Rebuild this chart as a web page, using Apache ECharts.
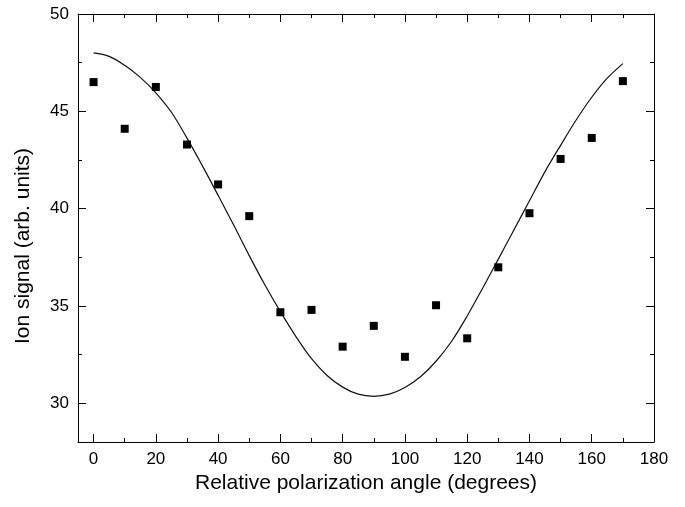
<!DOCTYPE html>
<html>
<head>
<meta charset="utf-8">
<script src="https://cdn.jsdelivr.net/npm/echarts@6/dist/echarts.min.js"></script>
<style>
html,body{margin:0;padding:0;background:#fff;}
#chart{width:685px;height:507px;}
</style>
</head>
<body>
<div id="chart"></div>
<script>
// Measured data points
const angles = [0, 10, 20, 30, 40, 50, 60, 70, 80, 90, 100, 110, 120, 130, 140, 150, 160, 170];
const signal = [46.50, 44.10, 46.25, 43.29, 41.24, 39.61, 34.67, 34.79, 32.90, 33.97, 32.38, 35.03, 33.33, 36.98, 39.76, 42.55, 43.63, 46.55];

// Fit curve, every 5 degrees
const fitAngles = [0, 5, 10, 15, 20, 25, 30, 35, 40, 45, 50, 55, 60, 65, 70, 75, 80, 85, 90,
                   95, 100, 105, 110, 115, 120, 125, 130, 135, 140, 145, 150, 155, 160, 165, 170];
const fitValues = [48.00, 47.82, 47.36, 46.74, 45.95, 44.95, 43.62, 42.18, 40.68, 39.15, 37.58, 36.08, 34.70, 33.42, 32.28, 31.42, 30.82, 30.46, 30.35,
                   30.46, 30.80, 31.35, 32.15, 33.18, 34.48, 35.92, 37.40, 38.90, 40.40, 41.90, 43.25, 44.55, 45.72, 46.70, 47.45];

// Tick values
const xMajorTicks = [0, 20, 40, 60, 80, 100, 120, 140, 160, 180];
const xMinorTicks = [10, 30, 50, 70, 90, 110, 130, 150, 170];
const yMajorTicks = [30, 35, 40, 45, 50];
const yMinorTicks = [32.5, 37.5, 42.5, 47.5];

const xTitle = 'Relative polarization angle (degrees)';
const yTitle = 'Ion signal (arb. units)';

const FONT = '"Liberation Sans", Arial, Helvetica, sans-serif';
const INK = '#000';

function xAx(pos, ticks, len, showLine, showLabel) {
  const a = {
    type: 'value', position: pos, min: -5, max: 180,
    splitLine: { show: false },
    axisLine: { show: showLine, onZero: false, lineStyle: { color: INK, width: 1 } },
    axisTick: { show: true, inside: true, length: len, customValues: ticks, lineStyle: { color: INK, width: 1 } },
    axisLabel: { show: false }
  };
  if (showLabel) {
    a.axisLabel = { show: true, customValues: xMajorTicks, color: INK, fontSize: 17, fontFamily: FONT, margin: 9 };
    a.name = xTitle;
    a.nameLocation = 'middle';
    a.nameGap = 27;
    a.nameTextStyle = { color: INK, fontSize: 21, fontFamily: FONT };
  }
  return a;
}
function yAx(pos, ticks, len, showLine, showLabel) {
  const a = {
    type: 'value', position: pos, min: 28, max: 50,
    splitLine: { show: false },
    axisLine: { show: showLine, onZero: false, lineStyle: { color: INK, width: 1 } },
    axisTick: { show: true, inside: true, length: len, customValues: ticks, lineStyle: { color: INK, width: 1 } },
    axisLabel: { show: false }
  };
  if (showLabel) {
    a.axisLabel = { show: true, customValues: yMajorTicks, color: INK, fontSize: 17, fontFamily: FONT, margin: 9 };
  }
  return a;
}

const chart = echarts.init(document.getElementById('chart'), null, { renderer: 'canvas' });
chart.setOption({
  animation: false,
  backgroundColor: '#fff',
  grid: { left: 78, right: 31, top: 14, bottom: 65, containLabel: false, outerBoundsMode: 'none' },
  xAxis: [
    xAx('bottom', xMajorTicks, 8, true, true),
    xAx('bottom', xMinorTicks, 4, false, false),
    xAx('top', xMajorTicks, 8, true, false),
    xAx('top', xMinorTicks, 4, false, false)
  ],
  yAxis: [
    yAx('left', yMajorTicks, 8, true, true),
    yAx('left', yMinorTicks, 4, false, false),
    yAx('right', yMajorTicks, 8, true, false),
    yAx('right', yMinorTicks, 4, false, false)
  ],
  graphic: [{
    type: 'text',
    x: 23, y: 246,
    rotation: Math.PI / 2,
    style: {
      text: yTitle, fill: INK, fontSize: 21, fontFamily: FONT,
      textAlign: 'center', textVerticalAlign: 'middle'
    }
  }],
  series: [
    {
      type: 'line', xAxisIndex: 0, yAxisIndex: 0,
      data: fitAngles.map((a, i) => [a, fitValues[i]]),
      smooth: 0.35, showSymbol: false, symbol: 'none',
      lineStyle: { color: '#111', width: 1.2 },
      silent: true, z: 2
    },
    {
      type: 'scatter', xAxisIndex: 0, yAxisIndex: 0,
      data: angles.map((a, i) => [a, signal[i]]),
      symbol: 'rect', symbolSize: 8,
      itemStyle: { color: INK, opacity: 1 },
      silent: true, z: 3
    }
  ]
});
</script>
</body>
</html>
